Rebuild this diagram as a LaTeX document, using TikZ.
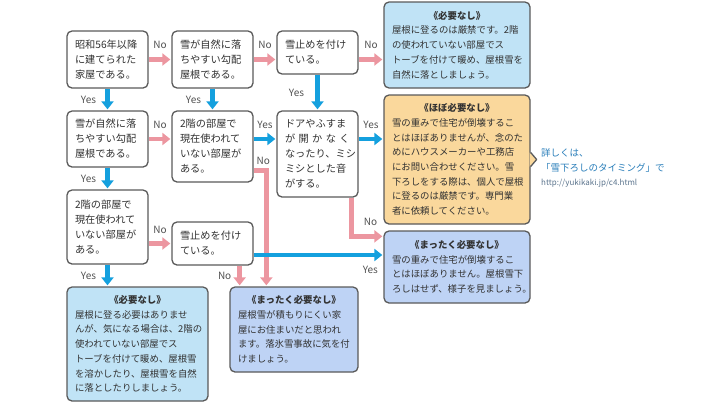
\documentclass[tikz,border=0pt]{standalone}
\usepackage{fontspec}
\setmainfont{Noto Sans CJK JP}
\usetikzlibrary{arrows.meta}
\definecolor{noPink}{RGB}{236,150,160}
\definecolor{yesBlue}{RGB}{20,160,222}
\definecolor{boxLine}{RGB}{90,90,90}
\definecolor{txtGray}{RGB}{50,50,50}
\definecolor{needFill}{RGB}{192,227,246}
\definecolor{hardlyFill}{RGB}{250,216,156}
\definecolor{noneFill}{RGB}{190,211,245}
\definecolor{linkBlue}{RGB}{40,125,185}
\definecolor{urlGray}{RGB}{90,115,140}
\newcommand\restitle[1]{\makebox[\hsize]{\bfseries 《#1》}}

\begin{document}
\begin{tikzpicture}[x=1pt,y=-1pt]
\tikzset{q/.style={draw=boxLine,line width=1.3pt,rounded corners=5pt,fill=white,text=txtGray,
  inner xsep=8pt,inner ysep=0pt,text width=65pt,align=left,minimum height=#1,
  font=\fontsize{10.2}{15}\selectfont}}
\tikzset{res/.style={draw=boxLine,line width=1.3pt,rounded corners=5pt,text=txtGray,
  inner xsep=8pt,inner ysep=0pt,align=left,font=\fontsize{9.4}{14.7}\selectfont}}
\tikzset{noArrow/.style={draw=noPink,line width=4.5pt,-{Triangle[length=8pt,width=12pt]},shorten >=1pt}}
\tikzset{yesArrow/.style={noArrow,draw=yesBlue}}
\tikzset{lab/.style={text=txtGray!85,font=\fontsize{10}{12}\selectfont,inner sep=0pt}}
\useasboundingbox (0,0) rectangle (720,405);

\node[q=57pt] (A1) at (107.5,59.5) {昭和56年以降\\に建てられた\\家屋である。};
\node[q=57pt] (A2) at (212.5,59.5) {雪が自然に落\\ちやすい勾配\\屋根である。};
\node[q=43pt] (A3) at (317.5,52.5) {雪止めを付け\\ている。};
\node[res,fill=needFill,text width=130pt,minimum height=86pt] (R1) at (457,45)
  {\restitle{必要なし}\\屋根に登るのは厳禁です。2階\\の使われていない部屋でス\\トーブを付けて暖め、屋根雪を\\自然に落としましょう。};

\node[q=56pt] (B1) at (107.5,139) {雪が自然に落\\ちやすい勾配\\屋根である。};
\node[q=71pt] (B2) at (212.5,146.5) {2階の部屋で\\現在使われて\\いない部屋が\\ある。};
\node[q=86pt] (B3) at (317.5,154) {ドアやふすま\\\makebox[61pt][s]{が 開 か な く}\\なったり、ミシ\\ミシとした音\\がする。};
\node[res,fill=hardlyFill,text width=130pt,minimum height=129pt] (R2) at (457,159.5)
  {\restitle{ほぼ必要なし}\\雪の重みで住宅が倒壊するこ\\とはほぼありませんが、念のた\\めにハウスメーカーや工務店\\にお問い合わせください。雪\\下ろしをする際は、個人で屋根\\に登るのは厳禁です。専門業\\者に依頼してください。};
\fill[hardlyFill] ([shift={(-1pt,7pt)}]R2.east) -- ([xshift=6pt]R2.east) -- ([shift={(-1pt,-7pt)}]R2.east) -- cycle;
\draw[boxLine,line width=1.3pt,line join=round] ([yshift=7pt]R2.east) -- ([xshift=6pt]R2.east) -- ([yshift=-7pt]R2.east);

\node[q=74pt] (C1) at (107.5,227) {2階の部屋で\\現在使われて\\いない部屋が\\ある。};
\node[q=43pt] (C2) at (212.5,243.5) {雪止めを付け\\ている。};
\node[res,fill=noneFill,text width=130pt,minimum height=72pt] (R3) at (457,267)
  {\restitle{まったく必要なし}\\雪の重みで住宅が倒壊するこ\\とはほぼありません。屋根雪下\\ろしはせず、様子を見ましょう。};

\node[res,fill=needFill,text width=125pt,minimum height=114pt] (D1) at (137.5,344)
  {\restitle{必要なし}\\屋根に登る必要はありませ\\んが、気になる場合は、2階の\\使われていない部屋でス\\トーブを付けて暖め、屋根雪\\を溶かしたり、屋根雪を自然\\に落としたりしましょう。};
\node[res,fill=noneFill,text width=112pt,minimum height=85pt] (D2) at (294,329.5)
  {\restitle{まったく必要なし}\\屋根雪が積もりにくい家\\屋にお住まいだと思われ\\ます。落氷雪事故に気を付\\けましょう。};

\node[anchor=west,align=left,text=linkBlue,font=\fontsize{9.5}{14.5}\selectfont,inner sep=0pt] (more) at (541,168)
  {詳しくは、\\「雪下ろしのタイミング」で\\{\color{urlGray}\fontsize{8}{14.5}\selectfont http://yukikaki.jp/c4.html}};

\draw[noArrow] (A1) -- (A2) node[lab,midway,yshift=15pt] (nA1) {No};
\draw[noArrow] (A2.east) -- (A2.east -| A3.west) node[lab,midway,yshift=15pt] (nA2) {No};
\draw[noArrow] (A2.east -| A3.east) -- (A2.east -| R1.west) node[lab,midway,yshift=15pt] (nA3) {No};
\draw[yesArrow] (A1) -- (B1) node[lab,midway,xshift=-19pt] (yA1) {Yes};
\draw[yesArrow] (A2) -- (B2) node[lab,midway,xshift=-19pt] (yA2) {Yes};
\draw[yesArrow] (A3) -- (B3) node[lab,midway,xshift=-21pt] (yA3) {Yes};

\draw[noArrow] (B1.east) -- (B1.east -| B2.west) node[lab,midway,yshift=14pt] (nB1) {No};
\draw[yesArrow] (B1.east -| B2.east) -- (B1.east -| B3.west) node[lab,midway,yshift=14pt] (yB2) {Yes};
\draw[yesArrow] (B1.east -| B3.east) -- (B1.east -| R2.west) node[lab,midway,yshift=14pt] (yB3) {Yes};
\draw[yesArrow] (B1) -- (C1) node[lab,midway,xshift=-19pt] (yB1) {Yes};

\draw[noArrow] ([yshift=12pt]B2.south east) -| ([xshift=37pt]D2.north west) node[lab,pos=0.5,xshift=-3pt,yshift=10pt] (nB2) {No};
\draw[noArrow] ([xshift=-7pt]B3.south east) |- ([yshift=-6pt]R3.north west) node[lab,pos=0.75,xshift=3pt,yshift=14pt] (nB3) {No};

\draw[noArrow] (C2.west -| C1.east) -- (C2.west) node[lab,midway,yshift=14pt] (nC1) {No};
\draw[yesArrow] (C1) -- (C1 |- D1.north) node[lab,midway,xshift=-19pt] (yC1) {Yes};
\draw[noArrow] ([xshift=-14pt]C2.south east) -- ([xshift=-14pt]C2.south east |- D2.north) node[lab,midway,xshift=-15pt] (nC2) {No};
\draw[yesArrow] ([yshift=-11.5pt]C2.east) -- ([yshift=-11.5pt]C2.east -| R3.west) node[lab,pos=0.9,yshift=-15pt] (yC2) {Yes};
\end{tikzpicture}
\end{document}
